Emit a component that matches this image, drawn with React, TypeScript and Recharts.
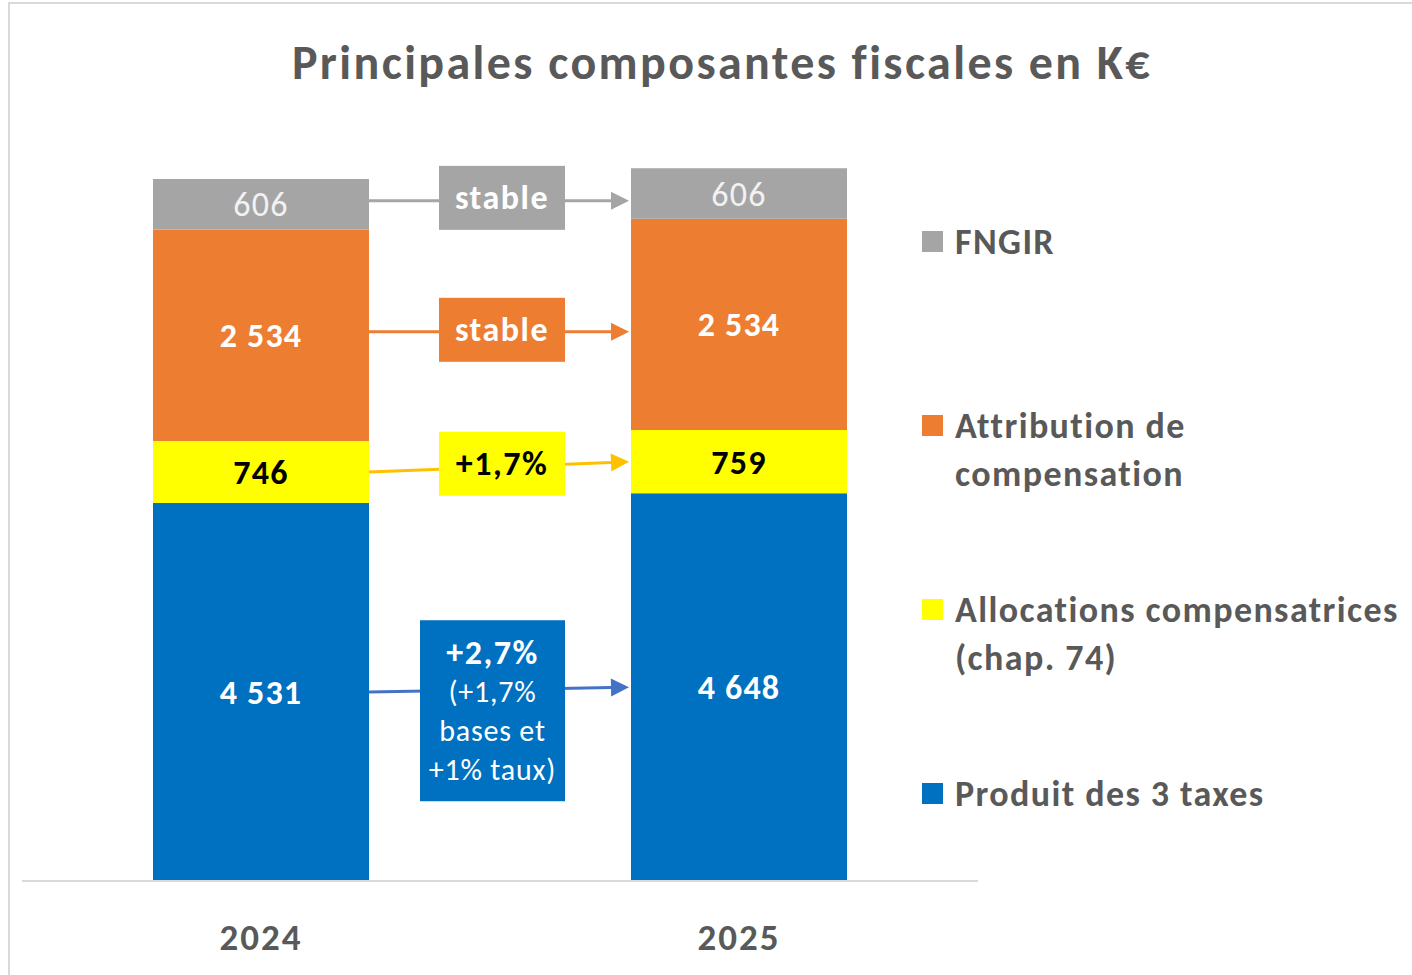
import React from 'react';
import { BarChart, Bar, XAxis, YAxis, LabelList, ReferenceLine } from 'recharts';

const categories = ['2024', '2025'];
const produit = [4531, 4648];
const allocations = [746, 759];
const attribution = [2534, 2534];
const fngir = [606, 606];

const seriesKeys = ['produit', 'allocations', 'attribution', 'fngir'];
const seriesValues = [produit, allocations, attribution, fngir];
const seriesColors = ['#0070C0', '#FFFF00', '#ED7D31', '#A5A5A5'];
const legendLines = [
  ['Produit des 3 taxes'],
  ['Allocations compensatrices', '(chap. 74)'],
  ['Attribution de', 'compensation'],
  ['FNGIR'],
];
const valueLabelColors = ['#FFFFFF', '#000000', '#FFFFFF', '#F2F2F2'];
const valueLabelWeights = [700, 700, 700, 400];
const changeLabels = [
  ['+2,7%', '(+1,7%', 'bases et', '+1% taux)'],
  ['+1,7%'],
  ['stable'],
  ['stable'],
];
const changeTextColors = ['#FFFFFF', '#000000', '#FFFFFF', '#FFFFFF'];
const connectorColors = ['#4472C4', '#FFC000', '#ED7D31', '#A5A5A5'];

const FONT = 'Carlito, Lato, "Open Sans", sans-serif';
const TEXT_GRAY = '#595959';
const BAR_SIZE = 216;

const data = categories.map((c, i) => ({
  year: c,
  produit: produit[i],
  allocations: allocations[i],
  attribution: attribution[i],
  fngir: fngir[i],
}));

const fmt = (v: any) => {
  const n = Number(v);
  return n.toLocaleString('fr-FR').replace(/\u202f|\u00a0/g, ' ');
};

// midpoint of each series segment in value units, per category
const segmentMid = (k: number, i: number) => {
  let below = 0;
  for (let j = 0; j < k; j++) below += seriesValues[j][i];
  return below + seriesValues[k][i] / 2;
};

const boxSpecs = [
  { w: 145, h: 181, dy: 21 },
  { w: 126, h: 64, dy: -3 },
  { w: 126, h: 64, dy: -2 },
  { w: 126, h: 64, dy: -3 },
];

const makeConnector = (k: number) => (p: any) => {
  let { y1, y2 } = p;
  const { x1, x2 } = p;
  const unchanged = seriesValues[k][0] === seriesValues[k][1];
  if (unchanged) {
    const avg = (y1 + y2) / 2 + 2;
    y1 = avg;
    y2 = avg;
  }
  const sx = x1 + BAR_SIZE / 2;
  const ex = x2 - BAR_SIZE / 2 - 2;
  const color = connectorColors[k];
  const ang = Math.atan2(y2 - y1, ex - sx);
  const al = 18;
  const aw = 9;
  const bx = ex - al * Math.cos(ang);
  const by = y2 - al * Math.sin(ang);
  const pts = [
    [ex, y2],
    [bx - aw * Math.sin(ang), by + aw * Math.cos(ang)],
    [bx + aw * Math.sin(ang), by - aw * Math.cos(ang)],
  ]
    .map((q) => q.join(','))
    .join(' ');
  const spec = boxSpecs[k];
  const mid = (x1 + x2) / 2;
  const right = mid + 65;
  const left = right - spec.w;
  const cx = (left + right) / 2;
  const t = (cx - sx) / (ex - sx);
  const cy = y1 + (y2 - y1) * t + spec.dy;
  const lines = changeLabels[k];
  const spacing = 39;
  return (
    <g>
      <line x1={sx} y1={y1} x2={bx} y2={by} stroke={color} strokeWidth={3} />
      <polygon points={pts} fill={color} />
      <rect x={left} y={cy - spec.h / 2} width={spec.w} height={spec.h} fill={seriesColors[k]} />
      {lines.map((ln, li) => (
        <text
          key={li}
          x={cx}
          y={cy + (li - (lines.length - 1) / 2) * spacing}
          textAnchor="middle"
          dominantBaseline="central"
          fill={changeTextColors[k]}
          fontFamily={FONT}
          fontSize={li === 0 ? 34 : 30}
          fontWeight={li === 0 ? 700 : 400}
          letterSpacing={li === 0 ? 1.5 : 0.8}
        >
          {ln}
        </text>
      ))}
    </g>
  );
};

const XTick = (props: any) => {
  const { x, y, payload } = props;
  return (
    <text
      x={x}
      y={y + 48}
      textAnchor="middle"
      dominantBaseline="central"
      fill={TEXT_GRAY}
      fontFamily={FONT}
      fontSize={37}
      fontWeight={700}
      letterSpacing={2}
    >
      {payload.value}
    </text>
  );
};

export default function App() {
  return (
    <div
      style={{
        position: 'absolute',
        left: 0,
        top: 0,
        width: 1412,
        height: 975,
        background: '#FFFFFF',
        overflow: 'hidden',
        fontFamily: FONT,
      }}
    >
      <div
        style={{
          position: 'absolute',
          left: 8,
          top: 2,
          width: 1440,
          height: 1000,
          border: '2px solid #D9D9D9',
          boxSizing: 'border-box',
        }}
      />
      <div
        style={{
          position: 'absolute',
          left: 222,
          top: 36,
          width: 1000,
          textAlign: 'center',
          fontSize: 48,
          lineHeight: '54px',
          fontWeight: 700,
          letterSpacing: 2.4,
          color: TEXT_GRAY,
          whiteSpace: 'nowrap',
        }}
      >
        Principales composantes fiscales en K€
      </div>
      <div style={{ position: 'absolute', left: 0, top: 0 }}>
        <BarChart
          width={1412}
          height={975}
          data={data}
          margin={{ top: 47, right: 434, bottom: 34, left: 22 }}
          barCategoryGap={0}
        >
          <XAxis
            dataKey="year"
            axisLine={{ stroke: '#D9D9D9', strokeWidth: 2 }}
            tickLine={false}
            height={60}
            tick={<XTick />}
            interval={0}
          />
          <YAxis hide domain={[0, 10000]} allowDataOverflow />
          {seriesKeys.map((key, k) => (
            <Bar
              key={key}
              dataKey={key}
              stackId="a"
              fill={seriesColors[k]}
              barSize={BAR_SIZE}
              isAnimationActive={false}
            >
              <LabelList
                dataKey={key}
                position="center"
                formatter={fmt}
                fill={valueLabelColors[k]}
                fontFamily={FONT}
                fontSize={34}
                letterSpacing={1.2}
                fontWeight={valueLabelWeights[k]}
              />
            </Bar>
          ))}
          {seriesKeys.map((key, k) => (
            <ReferenceLine
              key={'c' + key}
              segment={[
                { x: categories[0], y: segmentMid(k, 0) },
                { x: categories[1], y: segmentMid(k, 1) },
              ]}
              shape={makeConnector(k)}
              ifOverflow="visible"
            />
          ))}
        </BarChart>
      </div>
      <div style={{ position: 'absolute', left: 922, top: 218 }}>
        {[3, 2, 1, 0].map((k) => (
          <div key={k} style={{ display: 'flex', height: 184, alignItems: 'flex-start' }}>
            <div
              style={{
                width: 21,
                height: 21,
                background: seriesColors[k],
                marginTop: 13,
                marginRight: 12,
                flex: 'none',
              }}
            />
            <div>
              {legendLines[k].map((ln, li) => (
                <div
                  key={li}
                  style={{
                    fontSize: 36,
                    lineHeight: '48px',
                    fontWeight: 700,
                    letterSpacing: 1.4,
                    color: TEXT_GRAY,
                    whiteSpace: 'nowrap',
                  }}
                >
                  {ln}
                </div>
              ))}
            </div>
          </div>
        ))}
      </div>
    </div>
  );
}
